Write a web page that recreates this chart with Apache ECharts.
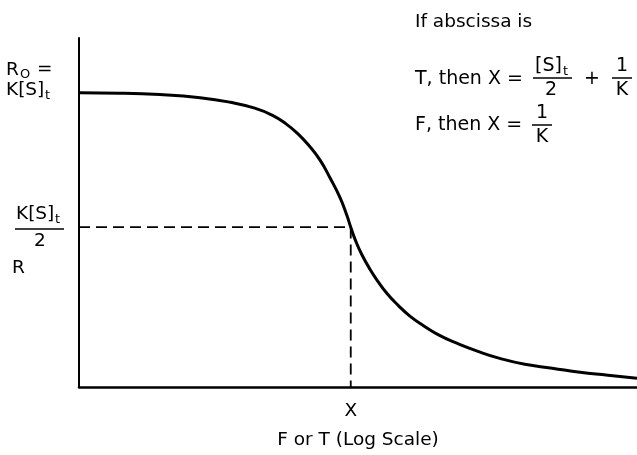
<!DOCTYPE html>
<html>
<head>
<meta charset="utf-8">
<script src="https://cdn.jsdelivr.net/npm/echarts@6/dist/echarts.min.js"></script>
<style>html,body{margin:0;padding:0;background:#fff}#c{width:637px;height:455px}</style>
</head>
<body>
<div id="c"></div>
<script>
// Binding curve R vs log(F or T), arbitrary units
const curveX = [0, 7.35, 14.5, 21.7, 27.1, 31.5, 34.6, 37.1, 39.2, 41.2, 43.2, 45.0, 46.8, 48.0, 48.7, 49.6, 50.7, 52.2, 53.6, 55.2, 57.2, 59.3, 61.8, 64.7, 67.9, 71.5, 75.4, 79.9, 84.8, 89.8, 94.8, 100];
const curveY = [84.3, 84.2, 83.8, 82.9, 81.6, 79.9, 77.9, 75.4, 72.6, 69.2, 65.0, 59.9, 54.2, 49.2, 45.8, 41.8, 37.9, 33.6, 30.2, 26.8, 23.4, 20.3, 17.5, 14.7, 12.4, 10.2, 8.2, 6.5, 5.4, 4.2, 3.4, 2.5];
// Half-saturation point X (dashed guide lines)
const halfX = 48.7;
const halfY = 45.8;
const xTickValues = [halfX];
const xTickLabels = ['X'];
const xAxisName = 'F or T (Log Scale)';

const FONT = 'DejaVu Sans';
const FS = 18.5;
const FS2 = 19;
const SUB = 13;

function txt(x, y, s, size, align) {
  return { type: 'text', x: x, y: y, silent: true,
    style: { text: s, fontFamily: FONT, fontSize: size || FS, fill: '#000',
      align: align || 'left', verticalAlign: 'middle' } };
}
function hline(x1, x2, y, w) {
  return { type: 'line', silent: true, shape: { x1: x1, y1: y, x2: x2, y2: y },
    style: { stroke: '#000', lineWidth: w || 1.5 } };
}

const chart = echarts.init(document.getElementById('c'), null, { renderer: 'canvas' });

const graphic = [
  // left: R0 = K[S]t
  txt(6, 70, 'R'), txt(20, 75, 'O', SUB), txt(37, 69, '='),
  txt(6, 90, 'K[S]'), txt(45, 96, 't', SUB),
  // left: K[S]t / 2
  txt(16, 214, 'K[S]'), txt(55, 220, 't', SUB),
  hline(15, 64, 229, 1.5),
  txt(40, 241, '2', FS, 'center'),
  // R
  txt(12, 268, 'R'),
  // right annotation
  txt(415, 22, 'If abscissa is'),
  txt(415, 79, 'T, then X =', FS2),
  txt(535, 66, '[S]', FS2), txt(563, 72, 't', SUB),
  hline(533, 572, 78, 1.5),
  txt(551, 90, '2', FS2, 'center'),
  txt(592, 79, '+', FS2, 'center'),
  txt(622, 66, '1', FS2, 'center'),
  hline(612, 632, 78, 1.5),
  txt(622, 90, 'K', FS2, 'center'),
  txt(415, 125, 'F, then X =', FS2),
  txt(542, 113, '1', FS2, 'center'),
  hline(532, 552, 125, 1.5),
  txt(542, 137, 'K', FS2, 'center')
];

chart.setOption({
  animation: false,
  backgroundColor: '#fff',
  grid: { left: 79, right: 0, top: 38, bottom: 63 },
  xAxis: {
    type: 'value', min: 0, max: 100,
    name: xAxisName, nameLocation: 'middle', nameGap: 44,
    nameTextStyle: { fontFamily: FONT, fontSize: FS, color: '#000' },
    axisLine: { show: true, lineStyle: { color: '#000', width: 2.5 } },
    axisTick: { show: false },
    splitLine: { show: false },
    axisLabel: {
      customValues: xTickValues,
      formatter: function (v) { const i = xTickValues.indexOf(v); return i >= 0 ? xTickLabels[i] : ''; },
      fontFamily: FONT, fontSize: FS, color: '#000', margin: 15
    }
  },
  yAxis: {
    type: 'value', min: 0, max: 100,
    axisLine: { show: true, lineStyle: { color: '#000', width: 2 } },
    axisTick: { show: false },
    axisLabel: { show: false },
    splitLine: { show: false }
  },
  series: [
    {
      type: 'line', name: 'guide',
      data: [[0, halfY], [halfX, halfY], [halfX, 0]],
      symbol: 'none',
      lineStyle: { color: '#000', width: 1.8, type: [11, 6] },
      z: 1
    },
    {
      type: 'line', name: 'R',
      data: curveX.map(function (x, i) { return [x, curveY[i]]; }),
      smooth: 0.5,
      symbol: 'none',
      lineStyle: { color: '#000', width: 3 },
      clip: false,
      z: 2
    }
  ],
  graphic: graphic
});
</script>
</body>
</html>
